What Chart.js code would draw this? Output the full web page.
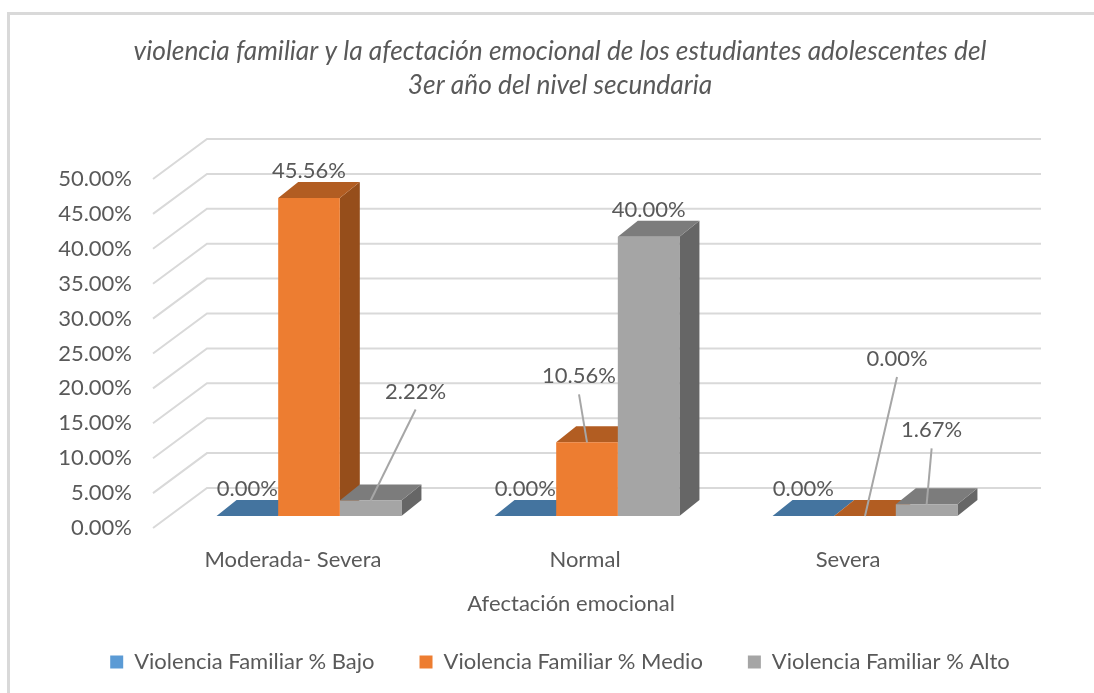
<!DOCTYPE html>
<html><head><meta charset="utf-8">
<style>html,body{margin:0;padding:0;background:#fff}#w{width:1094px;height:693px;position:relative}</style>
<script src="https://cdn.jsdelivr.net/npm/chart.js@4"></script></head>
<body><div id="w"><canvas id="c" width="1094" height="693"></canvas></div>
<script>
const categories = ["Moderada- Severa", "Normal", "Severa"];
const seriesNames = ["Violencia Familiar % Bajo", "Violencia Familiar % Medio", "Violencia Familiar % Alto"];
const bajo = [0, 0, 0];
const medio = [45.56, 10.56, 0];
const alto = [2.22, 40, 1.67];
const titleLines = ["violencia familiar y la afectación emocional de los estudiantes adolescentes del", "3er año del nivel secundaria"];
const xTitle = "Afectación emocional";

const FONT = "Lato, 'Open Sans', sans-serif";
const TXT = "#595959", GRID = "#d9d9d9";
const frontCol = ["#5B9BD5", "#ED7D31", "#A5A5A5"];
const topCol = ["#44749F", "#B25D22", "#7C7C7C"];
const sideCol = ["#355B7D", "#964E1B", "#666666"];
const DEPTH_X = 20, DEPTH_Y = 16, FLOOR_LIFT = 12, WALL_X = 54, WALL_Y = 40, WALL_END = 1041;
const tickShift = [-16, -2, -17];
const xTitleX = 571, xTitleY = 604;
const moved = { "2,0": [45, -82], "1,1": [-8, -39], "1,2": [32, -130], "2,2": [5, -47] };

const fmt = v => v.toFixed(2) + "%";
function poly(ctx, pts, col) {
  ctx.beginPath(); pts.forEach((p, i) => i ? ctx.lineTo(p[0], p[1]) : ctx.moveTo(p[0], p[1]));
  ctx.closePath(); ctx.fillStyle = col; ctx.fill();
}
const plugin3d = {
  id: "threeD",
  beforeDraw(chart) {
    const ctx = chart.ctx, x = chart.scales.x;
    ctx.save(); ctx.strokeStyle = GRID; ctx.lineWidth = 3;
    ctx.beginPath(); ctx.moveTo(8.5, 693); ctx.lineTo(8.5, 13.5); ctx.lineTo(1094, 13.5); ctx.stroke();
    ctx.restore();
    x.getLabelItems(chart.chartArea).forEach((it, i) => { it.options.translation[0] = x.getPixelForTick(i) + tickShift[i]; });
  },
  beforeDatasetsDraw(chart) {
    const ctx = chart.ctx, y = chart.scales.y;
    ctx.save();
    ctx.strokeStyle = GRID; ctx.lineWidth = 2;
    y.ticks.forEach(t => {
      const py = y.getPixelForValue(t.value), sx = 153;
      ctx.beginPath(); ctx.moveTo(sx, py); ctx.lineTo(sx + WALL_X, py - WALL_Y); ctx.lineTo(WALL_END, py - WALL_Y); ctx.stroke();
    });
    categories.forEach((_, ci) => {
      seriesNames.forEach((_, si) => {
        const b = chart.getDatasetMeta(si).data[ci];
        const l = b.x - b.width / 2, r = b.x + b.width / 2, t = b.y - FLOOR_LIFT, g = b.base - FLOOR_LIFT;
        poly(ctx, [[r, g], [r + DEPTH_X, g - DEPTH_Y], [r + DEPTH_X, t - DEPTH_Y], [r, t]], sideCol[si]);
        poly(ctx, [[l, t], [r, t], [r + DEPTH_X, t - DEPTH_Y], [l + DEPTH_X, t - DEPTH_Y]], topCol[si]);
      });
    });
    ctx.restore();
    ctx.save(); ctx.translate(0, -FLOOR_LIFT);
  },
  afterDatasetsDraw(chart) {
    const ctx = chart.ctx;
    ctx.restore();
    ctx.save();
    ctx.textAlign = "center"; ctx.textBaseline = "middle"; ctx.font = "22px " + FONT; ctx.fillStyle = TXT;
    chart.data.datasets.forEach((ds, si) => ds.data.forEach((v, ci) => {
      const b = chart.getDatasetMeta(si).data[ci];
      const top = b.y - FLOOR_LIFT, m = moved[si + "," + ci];
      const lx = b.x + (m ? m[0] : 0), ly = top - 27 + (m ? m[1] : 0);
      if (m) {
        ctx.strokeStyle = "#a6a6a6"; ctx.lineWidth = 2;
        ctx.beginPath(); ctx.moveTo(lx, ly + 18); ctx.lineTo(b.x, top); ctx.stroke();
      }
      ctx.fillText(fmt(v), lx, ly);
    }));
    ctx.fillText(xTitle, xTitleX, xTitleY);
    ctx.restore();
  }
};
new Chart(document.getElementById("c"), {
  type: "bar",
  data: {
    labels: categories,
    datasets: [bajo, medio, alto].map((d, i) => ({
      label: seriesNames[i], data: d, backgroundColor: frontCol[i],
      categoryPercentage: 0.665, barPercentage: 1, borderWidth: 0
    }))
  },
  options: {
    responsive: false, animation: false, devicePixelRatio: 1,
    layout: { padding: { left: 26, right: 0, top: 0, bottom: 10 } },
    plugins: {
      title: { display: true, text: titleLines, color: TXT,
        font: { family: FONT, size: 26.3, style: "italic", weight: "normal", lineHeight: 34 / 26.3 },
        padding: { top: 35, bottom: 76 } },
      legend: { position: "bottom",
        labels: { color: TXT, boxWidth: 13, boxHeight: 13, padding: 45, font: { family: FONT, size: 22 } } },
      tooltip: { enabled: false }
    },
    scales: {
      x: { grid: { display: false }, border: { display: false },
        ticks: { color: TXT, font: { family: FONT, size: 22 }, padding: 11, maxRotation: 0 },
        afterFit(s) { s.height = 78; } },
      y: { min: 0, max: 50, grid: { display: false }, border: { display: false },
        ticks: { stepSize: 5, color: TXT, font: { family: FONT, size: 22 }, padding: 30, callback: v => fmt(v) },
        afterFit(s) { s.width = 144; } },
      yR: { position: "right", grid: { display: false }, border: { display: false }, ticks: { display: false },
        afterFit(s) { s.width = 90; } }
    }
  },
  plugins: [plugin3d]
});
</script></body></html>
